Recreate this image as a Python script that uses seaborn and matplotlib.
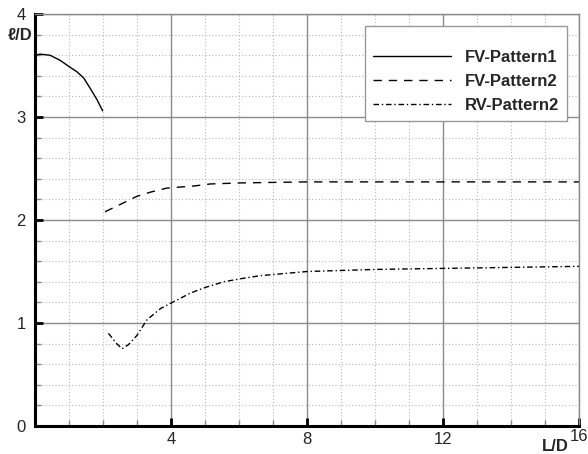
import numpy as np
import pandas as pd
import matplotlib
matplotlib.use('Agg')
import matplotlib.pyplot as plt
import seaborn as sns
from matplotlib.ticker import MultipleLocator

# data
x_fv1 = [0.0, 0.15, 0.44, 0.74, 1.0, 1.23, 1.43, 1.62, 1.82, 1.99]
y_fv1 = [3.60, 3.61, 3.60, 3.55, 3.49, 3.44, 3.38, 3.28, 3.17, 3.06]

x_fv2 = [2.06, 2.5, 3.0, 3.39, 3.88, 4.67, 5.16, 6.05, 8.0, 10.0, 12.0, 14.0, 16.0]
y_fv2 = [2.08, 2.15, 2.23, 2.27, 2.31, 2.33, 2.35, 2.36, 2.37, 2.37, 2.37, 2.37, 2.37]

x_rv2 = [2.16, 2.4, 2.56, 2.75, 3.0, 3.29, 3.69, 3.98, 4.57, 4.96, 5.55, 6.05, 6.64, 8.0, 10.0, 12.0, 14.0, 16.0]
y_rv2 = [0.90, 0.80, 0.75, 0.79, 0.88, 1.03, 1.14, 1.19, 1.29, 1.34, 1.40, 1.43, 1.46, 1.50, 1.52, 1.53, 1.54, 1.55]

series = ['FV-Pattern1', 'FV-Pattern2', 'RV-Pattern2']
x_ticks = [4, 8, 12, 16]
y_ticks = [0, 1, 2, 3, 4]

sns.set_style('white')
plt.rcParams['font.family'] = ['Liberation Sans', 'DejaVu Sans']

fig = plt.figure(figsize=(5.88, 4.54), dpi=100)
ax = fig.add_axes([35 / 588, 28 / 454, 544 / 588, 412 / 454])

styles = ['-', (0, (6, 5)), (0, (4, 2, 1, 2))]
for (xs, ys), name, ls in zip([(x_fv1, y_fv1), (x_fv2, y_fv2), (x_rv2, y_rv2)], series, styles):
    sns.lineplot(x=xs, y=ys, ax=ax, color='black', linewidth=1.0, linestyle=ls,
                 label=name, sort=False, estimator=None)

ax.set_xlim(0, 16)
ax.set_ylim(0, 4)
ax.set_xticks(x_ticks)
ax.set_xticklabels(['4', '8', '12', ''])
ax.set_yticks(y_ticks)
ax.set_yticklabels([str(v) for v in y_ticks])
ax.xaxis.set_minor_locator(MultipleLocator(1))
ax.yaxis.set_minor_locator(MultipleLocator(0.2))

ax.grid(which='major', color='#8a8a8a', linewidth=1.0, linestyle='-')
ax.grid(which='minor', color='#b8b8b8', linewidth=0.8, linestyle=(0, (1, 2)))
ax.set_axisbelow(True)

ax.tick_params(which='major', direction='in', length=6, width=2, color='black',
               labelsize=12, bottom=True, left=True, top=False, right=False)
ax.tick_params(axis='y', which='major', pad=6.5)
ax.tick_params(axis='x', which='major', pad=4.5)
ax.tick_params(which='minor', direction='in', length=4, width=1, color='#888888',
               bottom=True, left=True, top=False, right=False)

for side in ['left', 'bottom']:
    ax.spines[side].set_color('black')
    ax.spines[side].set_linewidth(2.2)
for side in ['top', 'right']:
    ax.spines[side].set_color('#8a8a8a')
    ax.spines[side].set_linewidth(1.0)

ax.text(16, -0.1, '16', ha='center', va='center', fontsize=12, clip_on=False)
ax.text(15.3, -0.2, 'L/D', ha='center', va='center', fontsize=12, fontweight='bold', clip_on=False)
ax.text(-0.028, 0.947, 'ℓ/D', transform=ax.transAxes, ha='center', va='center',
        fontsize=12, fontweight='bold')

leg = ax.legend(loc='upper right', borderaxespad=0.7, handlelength=4.7, handletextpad=0.8,
                prop={'weight': 'bold', 'size': 12}, fancybox=False, framealpha=1,
                edgecolor='#999999', borderpad=0.5, labelspacing=0.53,
                title=' ', title_fontsize=5)
leg.get_frame().set_linewidth(1.0)

fig.savefig('out.png', dpi=100)
